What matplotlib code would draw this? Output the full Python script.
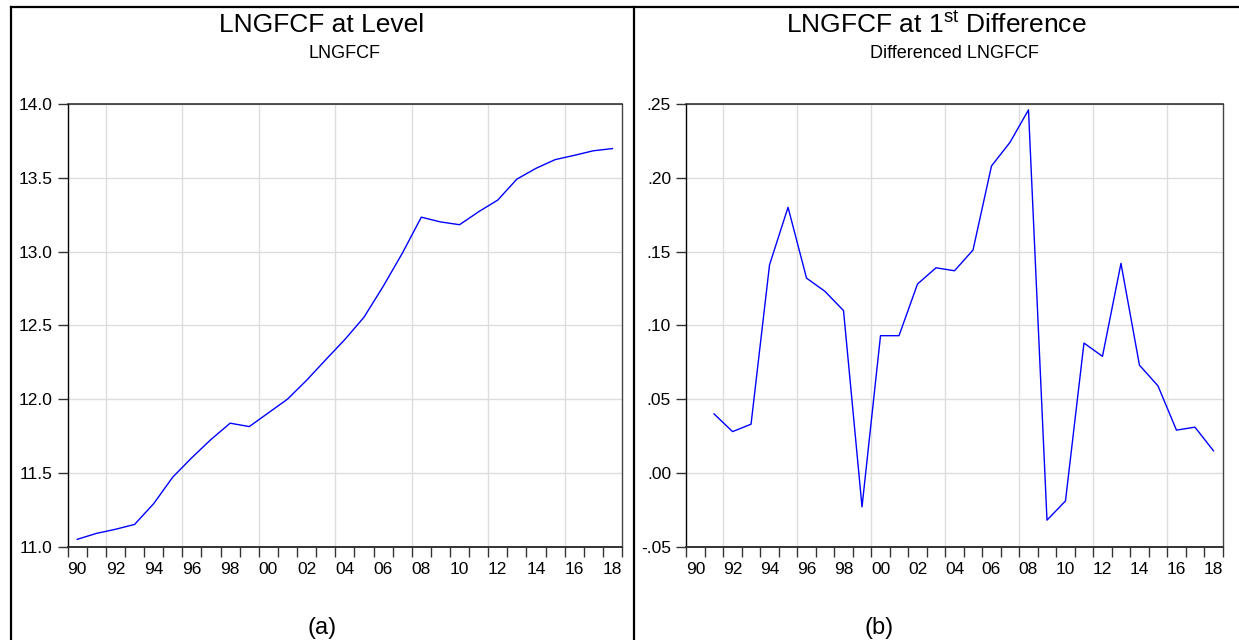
"""Two EViews-style line panels: LNGFCF at level and at first difference."""

import matplotlib

matplotlib.use("Agg")
import matplotlib.pyplot as plt
from matplotlib import font_manager
from matplotlib.lines import Line2D
from matplotlib.ticker import FixedLocator, FuncFormatter

years = list(range(1990, 2019))
lngfcf = [11.050, 11.090, 11.118, 11.151, 11.292, 11.472, 11.604, 11.727, 11.837, 11.814,
          11.907, 12.000, 12.128, 12.267, 12.404, 12.555, 12.763, 12.987, 13.233, 13.201,
          13.182, 13.270, 13.349, 13.491, 13.564, 13.623, 13.652, 13.683, 13.698]

diff_years = list(range(1991, 2019))
d_lngfcf = [0.040, 0.028, 0.033, 0.141, 0.180, 0.132, 0.123, 0.110, -0.023, 0.093,
            0.093, 0.128, 0.139, 0.137, 0.151, 0.208, 0.224, 0.246, -0.032, -0.019,
            0.088, 0.079, 0.142, 0.073, 0.059, 0.029, 0.031, 0.015]

level_yticks = [11.0, 11.5, 12.0, 12.5, 13.0, 13.5, 14.0]
diff_yticks = [-0.05, 0.00, 0.05, 0.10, 0.15, 0.20, 0.25]
label_years = list(range(1990, 2019, 2))
grid_years = list(range(1992, 2017, 4))

names = {f.name for f in font_manager.fontManager.ttflist}
WIDE = "Liberation Sans" if "Liberation Sans" in names else "DejaVu Sans"
NARROW = "Liberation Sans Narrow" if "Liberation Sans Narrow" in names else WIDE
narrow_ok = NARROW != WIDE
tick_size = 13.5 if narrow_ok else 12.5
sub_size = 15.5 if narrow_ok else 13

plt.rcParams["mathtext.fontset"] = "custom"
plt.rcParams["mathtext.rm"] = WIDE

W, H = 1239, 640
fig = plt.figure(figsize=(W / 100, H / 100), dpi=100)


def style_axis(ax, xs, ys, yticks, fmt):
    ax.set_xlim(1990, 2019)
    ax.set_ylim(yticks[0], yticks[-1])
    for gy in grid_years:
        ax.axvline(gy, color="#dddddd", lw=1.0, zorder=0)
    ax.yaxis.set_major_locator(FixedLocator(yticks))
    ax.yaxis.set_major_formatter(FuncFormatter(fmt))
    ax.yaxis.grid(True, color="#dddddd", lw=1.0, zorder=0)
    ax.set_axisbelow(True)

    ax.xaxis.set_major_locator(FixedLocator([y + 0.5 for y in label_years]))
    ax.xaxis.set_major_formatter(FuncFormatter(lambda v, p: f"{int(v) % 100:02d}"))
    ax.xaxis.set_minor_locator(FixedLocator(list(range(1990, 2020))))
    ax.tick_params(axis="x", which="major", length=0, pad=11)
    ax.tick_params(axis="x", which="minor", length=7, width=1, color="#333333",
                   direction="out")
    ax.tick_params(axis="y", length=7, width=1, color="#333333", pad=4, direction="out")
    for lab in ax.get_xticklabels() + ax.get_yticklabels():
        lab.set_fontfamily(NARROW)
        lab.set_fontsize(tick_size)

    ax.spines["left"].set_color("black")
    ax.spines["left"].set_linewidth(1.0)
    ax.spines["top"].set_color("#222222")
    ax.spines["top"].set_linewidth(1.1)
    ax.spines["right"].set_color("#444444")
    ax.spines["right"].set_linewidth(1.0)
    ax.spines["bottom"].set_color("#333333")
    ax.spines["bottom"].set_linewidth(1.4)

    ax.plot([x + 0.5 for x in xs], ys, color="#0000ff", lw=1.0, zorder=3)


ax1 = fig.add_axes([67.7 / W, 1 - 546.7 / H, (622 - 67.7) / W, (546.7 - 104) / H])
style_axis(ax1, years, lngfcf, level_yticks, lambda v, p: f"{v:.1f}")

ax2 = fig.add_axes([686.3 / W, 1 - 546.7 / H, (1222.7 - 686.3) / W, (546.7 - 104) / H])
style_axis(ax2, diff_years, d_lngfcf, diff_yticks,
           lambda v, p: f"{v:.2f}".replace("0.", "."))

# table-like frame around the two panels
frame = dict(transform=fig.transFigure, color="black", lw=1.6)
fig.add_artist(Line2D([11 / W, 1.0], [1 - 7.3 / H, 1 - 7.3 / H], **frame))
fig.add_artist(Line2D([11 / W, 11 / W], [0, 1 - 7.3 / H], **frame))
fig.add_artist(Line2D([634 / W, 634 / W], [0, 1 - 7.3 / H], **frame))

fig.text(322 / W, 1 - 25 / H, "LNGFCF at Level", ha="center", va="center",
         fontsize=19, family=WIDE)
fig.text(345 / W, 1 - 53 / H, "LNGFCF", ha="center", va="center",
         fontsize=sub_size, family=NARROW)
fig.text(936 / W, 1 - 25 / H, r"LNGFCF at 1$^{\mathrm{st}}$ Difference", ha="center",
         va="center", fontsize=19, family=WIDE)
fig.text(954 / W, 1 - 53 / H, "Differenced LNGFCF", ha="center", va="center",
         fontsize=sub_size, family=NARROW)
fig.text(322 / W, 1 - 628 / H, "(a)", ha="center", va="center", fontsize=17, family=WIDE)
fig.text(879 / W, 1 - 628 / H, "(b)", ha="center", va="center", fontsize=17, family=WIDE)

fig.savefig("out.png", dpi=100)
